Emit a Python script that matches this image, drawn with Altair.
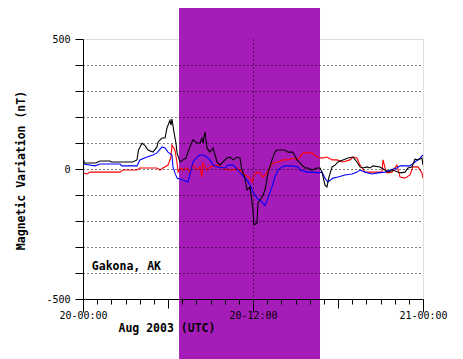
import altair as alt
import pandas as pd

# ---- data (hours after 20 Aug 2003 00:00 UTC, nT) ----
black_pts = [
    (0, 46), (0.1, 23), (0.9, 23), (1.2, 31), (1.9, 31), (2.0, 27), (3.5, 27), (3.81, 35),
    (3.92, 73), (4.16, 99), (4.35, 92), (4.59, 73), (4.94, 65), (5.22, 85), (5.3, 104),
    (5.58, 119), (5.79, 119), (5.93, 158), (6.14, 188), (6.21, 169), (6.28, 192), (6.42, 142),
    (6.56, 100), (6.64, 62), (6.78, 38), (6.85, 27), (7.06, 35), (7.27, 42), (7.41, 65),
    (7.69, 104), (7.76, 112), (8.05, 100), (8.26, 100), (8.40, 119), (8.47, 100), (8.61, 142),
    (8.75, 81), (8.96, 65), (9.18, 81), (9.46, 27), (9.67, 15), (9.88, 27), (10.16, 42),
    (10.38, 46), (10.59, 35), (10.87, 46), (11.08, 42), (11.22, -4), (11.43, -35), (11.58, -81),
    (11.79, -69), (12.0, -158), (12.07, -215), (12.28, -208), (12.35, -131), (12.64, -108),
    (12.85, -81), (13.06, -15), (13.34, 35), (13.55, 65), (13.69, 73), (14.26, 73), (14.47, 65),
    (14.82, 65), (15.11, 35), (15.46, 15), (15.67, 4), (15.88, 4), (16.16, -4), (16.52, 4),
    (16.73, 4), (16.87, -12), (17.08, -62), (17.22, -69), (17.36, -31), (17.58, 8), (17.79, 15),
    (18.0, 27), (18.35, 35), (18.71, 42), (19.06, 46), (19.34, 27), (19.55, 8), (19.76, 4),
    (20.05, 8), (20.26, 4), (20.47, 12), (20.96, 8), (21.32, -4), (21.53, -12), (21.88, -4),
    (22.38, -15), (22.73, -12), (22.94, 4), (23.22, 8), (23.43, 38), (23.65, 35), (23.93, 42),
    (24.0, 15),
]
blue_pts = [
    (0, 19), (0.85, 12), (1.2, 19), (2.61, 19), (2.75, 12), (3.81, 12), (4.02, 35), (4.52, 46),
    (4.94, 54), (5.22, 62), (5.58, 85), (5.79, 81), (6.0, 65), (6.28, 54), (6.35, 8), (6.49, -15),
    (6.64, -35), (6.78, -38), (7.06, -42), (7.41, -50), (7.62, -4), (7.76, 27), (8.05, 46),
    (8.26, 54), (8.47, 54), (8.75, 46), (8.96, 35), (9.18, 15), (9.46, 8), (10.02, 4),
    (10.24, 15), (10.59, 15), (10.94, -4), (11.22, -23), (11.58, -42), (11.79, -62), (12.0, -88),
    (12.28, -112), (12.64, -127), (12.85, -140), (13.06, -112), (13.34, -69), (13.55, -31),
    (13.76, -4), (14.05, 8), (14.26, 12), (14.75, 12), (15.18, 8), (15.32, -4), (15.81, -12),
    (16.24, -12), (16.59, -15), (16.87, -12), (17.08, -35), (17.29, -50), (17.65, -35),
    (18.0, -31), (18.49, -23), (18.99, -19), (19.34, -12), (19.55, -4), (19.91, -12),
    (20.4, -19), (20.82, -15), (21.32, -12), (21.67, -4), (22.16, 4), (22.38, 12), (23.08, 12),
    (23.43, 27), (23.79, 42), (24.0, 54),
]
red_pts = [
    (0, -15), (0.28, -19), (0.49, -12), (2.61, -12), (2.82, -4), (3.81, -4), (4.02, 4), (5.22, 4),
    (5.44, -4), (5.65, 4), (6.0, 15), (6.21, 46), (6.28, 92), (6.49, 73), (6.64, 23), (6.71, -12),
    (6.85, 4), (7.06, -4), (7.34, 4), (7.55, -12), (7.76, 15), (8.05, -4), (8.26, 8), (8.40, -31),
    (8.47, 23), (8.75, -4), (8.96, 8), (9.46, 15), (9.88, 4), (10.24, -4), (10.59, -4), (10.87, 4),
    (11.22, -12), (11.43, -23), (11.72, -31), (11.93, -50), (12.07, -23), (12.28, -12),
    (12.49, -15), (12.71, -31), (12.99, -15), (13.2, 8), (13.41, 23), (13.76, 27), (14.12, 35),
    (14.47, 35), (14.82, 42), (15.11, 35), (15.32, 46), (15.53, 62), (15.81, 62), (16.16, 62),
    (16.52, 46), (16.87, 42), (17.22, 46), (17.58, 35), (17.93, 35), (18.35, 27), (18.85, 35),
    (19.06, 46), (19.34, 42), (19.55, 15), (19.91, -12), (20.75, -12), (21.1, -12), (21.18, 35),
    (21.32, 4), (21.46, -15), (21.81, -12), (22.16, 15), (22.38, -31), (22.73, -35), (23.08, -23),
    (23.29, 8), (23.65, 8), (23.93, -15), (24.0, -35),
]
series_names = ["red", "blue", "black"]
series_colors = ["#ff0000", "#0000ff", "#000000"]

band_start, band_end = 6.78, 16.73
x_tick_labels = {0: "20-00:00", 12: "20-12:00", 24: "21-00:00"}
y_ticks = list(range(-500, 501, 100))
x_ticks = list(range(0, 25))
station_label = "Gakona, AK"
station_pos = (0.62, -375)
x_title = "Aug 2003 (UTC)"
y_title = "Magnetic Variation (nT)"

# ---- build ----
rows = []
for name, pts in zip(series_names, [red_pts, blue_pts, black_pts]):
    for i, (h, v) in enumerate(pts):
        rows.append({"series": name, "hour": h, "nT": v, "order": i})
df = pd.DataFrame(rows)

FONT = "DejaVu Sans Mono"
label_expr = " : ".join(
    [f"datum.value == {k} ? '{v}'" for k, v in x_tick_labels.items()]
) + " : ''"

x_scale = alt.Scale(domain=[0, 24], nice=False, zero=False)
y_scale = alt.Scale(domain=[-500, 500], nice=False)

x_axis = alt.Axis(
    values=x_ticks, labelExpr=label_expr, title=x_title,
    tickSize={"condition": [
        {"test": "datum.value % 12 == 0", "value": 13},
        {"test": "datum.value % 6 == 0", "value": 9},
    ], "value": 5},
    labelPadding=3, labelBaseline="middle", labelFont=FONT, labelFontSize=10, labelColor="black",
    labelAngle=0, labelOverlap=False, labelFlush=False,
    titleFont=FONT, titleFontSize=11.5, titleFontWeight="bold", titleColor="black",
    titleAnchor="start", titleAlign="left", titleBaseline="middle", titleX=35, titleY=29,
    grid=True, gridColor="black", gridDash=[1, 3], gridWidth=1,
    gridOpacity={"condition": {"test": "datum.value == 12", "value": 1}, "value": 0},
    domainColor="black", tickColor="black", zindex=1,
)
y_axis = alt.Axis(
    values=y_ticks, labelExpr="datum.value % 500 == 0 ? '' + datum.value : ''",
    title=y_title, tickSize=8, labelPadding=5, labelFont=FONT, labelFontSize=10,
    labelColor="black", labelOverlap=False, labelFlush=False,
    titleFont=FONT, titleFontSize=11.5, titleFontWeight="bold", titleColor="black",
    titleAngle=-90, titleAlign="center", titleBaseline="middle", titleX=-62, titleY=131,
    grid=True, gridColor="black", gridDash=[1, 3], gridWidth=1,
    gridOpacity={"condition": {"test": "abs(datum.value) == 500", "value": 0}, "value": 1},
    domainColor="black", tickColor="black", zindex=1,
)

band_df = pd.DataFrame({"start": [band_start], "end": [band_end]})
band = alt.Chart(band_df).mark_rect(color="#a61cb8", opacity=1).encode(
    x=alt.X("start:Q", scale=x_scale, axis=x_axis),
    x2="end:Q",
    y=alt.value(-31),
    y2=alt.value(330),
)

lines = alt.Chart(df).mark_line(strokeWidth=1.1, interpolate="linear", clip=True).encode(
    x=alt.X("hour:Q", scale=x_scale, axis=x_axis),
    y=alt.Y("nT:Q", scale=y_scale, axis=y_axis),
    color=alt.Color("series:N", scale=alt.Scale(domain=series_names, range=series_colors), legend=None),
    order="order:Q",
    detail="series:N",
)

label_df = pd.DataFrame({"hour": [station_pos[0]], "nT": [station_pos[1]], "text": [station_label]})
label = alt.Chart(label_df).mark_text(
    align="left", baseline="middle", font=FONT, fontSize=11.5, fontWeight="bold", color="black"
).encode(
    x=alt.X("hour:Q", scale=x_scale, axis=x_axis),
    y=alt.Y("nT:Q", scale=y_scale, axis=y_axis),
    text="text:N",
)

chart = alt.layer(band, lines, label).properties(
    width=340, height=260,
    autosize=alt.AutoSizeParams(type="none"),
    padding={"left": 75, "top": 31, "right": 32, "bottom": 60},
).configure_view(stroke="black", strokeWidth=1).configure(background="white")

chart.save("out.html", embed_options={"renderer": "svg", "actions": False})
